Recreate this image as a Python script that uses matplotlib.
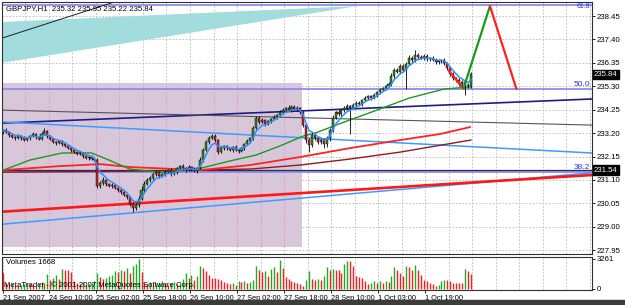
import numpy as np
import pandas as pd
import matplotlib
matplotlib.use("Agg")
import matplotlib.pyplot as plt
from matplotlib.patches import Rectangle, Polygon

plt.rcParams['font.family'] = ['Liberation Sans', 'DejaVu Sans']

# ---------------------------------------------------------------
# GBPJPY H1
# ---------------------------------------------------------------
first_open = 233.20
closes = [
    233.34, 233.25, 233.11, 233.02, 232.98, 233.07, 232.98, 232.89, 232.98, 233.07,
    233.16, 233.02, 232.93, 233.16, 233.29, 233.07, 232.93, 232.80, 232.76, 232.84,
    232.71, 232.62, 232.53, 232.44, 232.35, 232.26, 232.31, 232.17, 232.08, 232.13,
    232.04, 231.99, 230.83, 230.96, 231.10, 230.92, 230.83, 230.87, 230.74, 230.65,
    230.56, 230.42, 230.33, 230.02, 229.84, 229.97, 230.24, 230.65, 230.92, 231.10,
    231.18, 231.36, 231.45, 231.27, 231.36, 231.45, 231.54, 231.36, 231.45, 231.63,
    231.72, 231.63, 231.54, 231.68, 231.59, 231.50, 231.63, 231.99, 232.44, 232.80,
    232.98, 233.07, 232.89, 232.35, 232.53, 232.62, 232.53, 232.44, 232.58, 232.44,
    232.40, 232.53, 232.71, 232.84, 232.98, 233.43, 233.88, 233.70, 233.79, 233.61,
    233.74, 233.83, 233.92, 234.01, 234.14, 234.23, 234.32, 234.23, 234.37, 234.28,
    234.32, 234.14, 233.56, 232.89, 232.67, 233.11, 232.98, 232.80, 232.89, 232.71,
    232.98, 233.34, 233.88, 234.14, 234.06, 234.23, 234.32, 234.41, 234.32, 234.46,
    234.55, 234.50, 234.68, 234.77, 234.86, 234.77, 234.91, 235.04, 235.13, 235.22,
    235.31, 235.40, 235.76, 236.03, 235.94, 236.21, 236.03, 236.30, 236.57, 236.48,
    236.70, 236.61, 236.57, 236.66, 236.52, 236.57, 236.48, 236.39, 236.43, 236.48,
    236.34, 236.12, 235.85, 235.67, 235.58, 235.40, 235.49, 235.36, 235.32, 235.84,
]
# wick lengths in pips (0.01)
up_wick = [
    5, 8, 4, 6, 3, 9, 5, 7, 4, 6, 8, 5, 4, 10, 14, 6, 5, 7, 4, 6,
    5, 8, 6, 4, 7, 5, 9, 4, 6, 5, 7, 4, 8, 9, 12, 6, 5, 8, 4, 6,
    5, 7, 4, 6, 8, 10, 14, 20, 12, 9, 8, 6, 10, 7, 5, 9, 6, 8, 5, 7,
    6, 9, 5, 8, 6, 10, 7, 12, 9, 8, 11, 7, 9, 6, 8, 5, 7, 4, 6, 8,
    5, 7, 6, 8, 5, 10, 9, 7, 8, 6, 7, 5, 9, 6, 8, 10, 7, 12, 9, 11,
    8, 6, 5, 7, 9, 14, 8, 6, 9, 7, 8, 10, 12, 6, 9, 7, 8, 10, 6, 8,
    7, 9, 6, 8, 5, 7, 9, 6, 8, 7, 6, 9, 12, 8, 10, 7, 9, 8, 14, 10,
    23, 9, 8, 7, 10, 6, 8, 7, 9, 6, 8, 7, 6, 9, 5, 8, 7, 6, 9, 11,
]
lo_wick = [
    6, 5, 8, 4, 7, 5, 9, 6, 4, 8, 5, 7, 6, 4, 5, 8, 6, 5, 9, 4,
    7, 5, 6, 8, 4, 6, 5, 7, 6, 8, 5, 6, 10, 8, 7, 9, 5, 8, 6, 7,
    9, 6, 8, 10, 18, 7, 9, 6, 8, 5, 7, 9, 6, 8, 5, 7, 6, 9, 5, 8,
    6, 7, 9, 5, 8, 6, 7, 5, 8, 6, 9, 6, 7, 8, 5, 7, 9, 6, 8, 5,
    7, 6, 8, 5, 9, 7, 6, 8, 5, 7, 6, 8, 5, 7, 9, 6, 8, 5, 7, 6,
    8, 9, 10, 12, 30, 8, 9, 7, 10, 18, 12, 14, 8, 6, 9, 7, 10, 8, 116, 6,
    8, 6, 9, 5, 7, 8, 6, 9, 7, 6, 8, 5, 7, 9, 6, 10, 8, 85, 6, 9,
    7, 8, 6, 9, 7, 8, 6, 9, 8, 7, 10, 8, 9, 7, 8, 9, 12, 45, 10, 10,
]
volumes = [
    1740, 620, 480, 540, 420, 380, 450, 520, 610, 480, 400, 350, 520, 760, 640,
    1630, 980, 1200, 1520, 1090, 2170, 2070, 2070, 1850, 870, 650, 540, 760, 430, 540, 650, 870,
    1740, 1300, 1090, 1200, 1410, 1520, 1960, 1850, 2070, 1960, 2280, 1740, 2500, 2720, 3261, 1850,
    650, 540, 760, 430, 540, 650, 870, 540, 430, 650, 760, 540, 650, 1090,
    1740, 1200, 1520, 980, 1410, 2500, 2280, 1960, 1520, 1200, 1200, 1090, 980, 760, 650, 540, 650, 430,
    870, 760, 870, 650, 760, 980, 2500, 2070, 1850, 1960, 1410, 2170, 2390, 1850, 3150, 2280, 1300, 1090,
    870, 760, 650, 540,
    330, 980, 1960, 1090, 980, 1090, 980, 1410, 2390, 2070, 2170, 2070, 2070, 1740, 2720, 3040, 3040,
    2500, 1410, 1300, 1200, 870, 540, 650, 870, 650, 870, 650, 870, 760,
    1410, 2390, 2070, 1740, 1410, 2500, 2390, 2070, 2610, 2070, 1520, 980, 870, 650, 540, 330, 430,
    870, 980, 980, 870, 650, 650, 650, 650, 2170, 1960, 1668,
]

price_ticks = [238.45, 237.40, 236.35, 235.30, 234.25, 233.20, 232.15, 231.10, 230.05, 229.00, 227.95]
time_labels = ['21 Sep 2007', '24 Sep 10:00', '25 Sep 02:00', '25 Sep 18:00', '26 Sep 10:00',
               '27 Sep 02:00', '27 Sep 18:00', '28 Sep 10:00', '1 Oct 03:00', '1 Oct 19:00']
time_label_bars = [0, 15.5, 31.5, 47.5, 63.5, 79.5, 95.5, 111.5, 127.5, 143.5]
grid_bars = [7.5 + 8 * k for k in range(25)]

# moving averages (bar, price)
green_bars = [0, 9, 20, 30, 36, 43, 53, 66, 77, 86, 94, 102, 106, 116, 127, 138, 150, 159]
green_ma = [231.54, 231.99, 232.31, 232.31, 231.99, 231.59, 231.45, 231.59, 231.95, 232.22,
            232.62, 233.07, 233.20, 233.70, 234.23, 234.77, 235.18, 235.27]
red_bars = [0, 19, 33, 43, 67, 84, 101, 118, 135, 148.5, 158.7]
red_ma = [231.54, 231.72, 231.81, 231.68, 231.54, 231.77, 232.13, 232.53, 232.89, 233.16, 233.47]
maroon_bars = [0, 50, 84, 101, 118, 135, 159]
maroon_ma = [231.45, 231.50, 231.59, 231.77, 232.04, 232.35, 232.89]

# drawn objects
navy_line = [(0, 233.65), (200, 234.73)]
gray_line = [(0, 234.23), (200, 233.56)]
sky_line_hi = [(0, 233.70), (200, 232.31)]
red_trend = [(0, 229.68), (200, 231.32)]
sky_line_lo = [(0, 229.12), (200, 231.42)]
black_line = [(0, 237.48), (38, 239.09)]
cyan_tri = [(-1, 238.18), (120.6, 238.90), (-1, 236.34)]
box_bars = (-1, 101.6)
box_prices = (228.09, 235.45)

fib_names = ['61.8', '50.0', '38.2']
fib_prices = [238.94, 235.18, 231.45]
hline_price = 231.54
last_price = 235.84

zz_bars = [151.5, 156.5, 165.5, 174.5]
zz_prices = [236.00, 235.20, 238.90, 235.18]
zz_colors = ['#ff2020', '#1a9a1a', '#ff2020']

# ---------------------------------------------------------------
W, H = 625, 305
fig = plt.figure(figsize=(W / 100, H / 100), dpi=100)
ax = fig.add_axes([2 / W, 1 - 254 / H, 590 / W, 252 / H])
axv = fig.add_axes([2 / W, 1 - 290 / H, 590 / W, 33 / H])

n = len(closes)
x = np.arange(n)
c = np.array(closes)
o = np.concatenate([[first_open], c[:-1]])
hi = np.maximum(o, c) + np.array(up_wick) / 100
lo = np.minimum(o, c) - np.array(lo_wick) / 100

for a in (ax, axv):
    a.set_xlim(-0.44, 200.2)
    a.set_facecolor('white')
    for s in a.spines.values():
        s.set_color('#303030')
        s.set_linewidth(0.8)

ax.set_ylim(227.78, 239.08)

# background objects
ax.add_patch(Polygon(cyan_tri, closed=True, color='#a3dcdc', lw=0, zorder=1))
ax.add_patch(Rectangle((box_bars[0], box_prices[0]), box_bars[1] - box_bars[0],
                       box_prices[1] - box_prices[0], color='#d8c6d9', lw=0, zorder=1))
ax.vlines([g for g in grid_bars if g < box_bars[1]], box_prices[0], box_prices[1],
          colors='#e68ae6', lw=0.6, linestyles=(0, (2, 2)), zorder=1.2)

# grid
ax.set_yticks(price_ticks)
ax.set_yticklabels([f'{p:.2f}' for p in price_ticks])
ax.set_xticks(grid_bars)
ax.yaxis.tick_right()
ax.tick_params(axis='x', length=0, labelbottom=False)
ax.tick_params(axis='y', direction='out', length=2, width=0.6, pad=1.5, labelsize=5.6)
ax.grid(True, color='#b8b8b8', lw=0.6, ls=(0, (2, 2)), zorder=0.5)
ax.set_axisbelow(True)

# horizontal levels
for name, p in zip(fib_names, fib_prices):
    ax.axhline(p, color='#8c8cf0', lw=1.3, zorder=2)
    if p > ax.get_ylim()[1] - 0.4:
        ax.text(0.997, 0.998, name, transform=ax.transAxes, ha='right', va='top',
                fontsize=5.0, color='#3333dd', zorder=6)
    else:
        ax.text(0.997, p + 0.03, name, transform=ax.get_yaxis_transform(), ha='right', va='bottom',
                fontsize=6.0, color='#3333dd', zorder=6)
ax.axhline(hline_price, color='#2a2a4a', lw=0.9, zorder=2.1)

# trend lines
ax.axline(*navy_line, color='#1c1c86', lw=1.2, zorder=2)
ax.axline(*gray_line, color='#555555', lw=0.8, zorder=2)
ax.axline(*sky_line_hi, color='#3c9cff', lw=1.1, zorder=2)
ax.axline(*sky_line_lo, color='#3c9cff', lw=1.1, zorder=2)
ax.axline(*red_trend, color='#ff1818', lw=1.9, zorder=2.2)
ax.axline(*black_line, color='#202020', lw=0.7, zorder=2)

# moving averages
ax.plot(maroon_bars, maroon_ma, color='#8e1c1c', lw=1.0, zorder=3)
ax.plot(red_bars, red_ma, color='#ff2222', lw=1.3, zorder=3)
ax.plot(green_bars, green_ma, color='#1e981e', lw=1.0, zorder=3)

# candles
ax.vlines(x, lo, hi, colors='black', lw=0.6, zorder=4)
up = c >= o
body = np.abs(c - o)
body = np.where(body < 0.02, 0.02, body)
ax.bar(x[up], body[up], bottom=o[up], width=0.7, color='#2e8b2e', edgecolor='black', lw=0.3, zorder=4.5)
ax.bar(x[~up], body[~up], bottom=c[~up], width=0.7, color='#d02020', edgecolor='black', lw=0.3, zorder=4.5)

# fast EMA
ema = pd.Series(closes).ewm(span=5, adjust=False).mean()
ax.plot(x, ema, color='#2f8fff', lw=1.1, zorder=5)

# zigzag projection
for i in range(3):
    ax.plot(zz_bars[i:i + 2], zz_prices[i:i + 2], color=zz_colors[i], lw=1.6, zorder=5.5,
            solid_capstyle='round')

# price boxes on the axis
for p in (last_price, hline_price):
    ax.text(1.003, p, f'{p:.2f}', transform=ax.get_yaxis_transform(), ha='left', va='center',
            fontsize=5.6, color='white', zorder=10, clip_on=False,
            bbox=dict(boxstyle='square,pad=0.15', fc='black', ec='black'))

ax.text(0.006, 0.975, 'GBPJPY,H1  235.32 235.95 235.22 235.84', transform=ax.transAxes,
        ha='left', va='center', fontsize=5.6, color='black', zorder=10)

# volumes
vols = np.array(volumes)
prev = np.concatenate([[vols[0]], vols[:-1]])
vcol = np.where(vols > prev, '#22aa22', '#ee2222')
axv.vlines(x, 0, vols, colors=vcol, lw=1.0, zorder=3)
axv.set_ylim(-130, 3475)
axv.yaxis.tick_right()
axv.set_yticks([0, 3261])
axv.set_yticklabels(['0', '3261'])
axv.tick_params(axis='y', direction='out', length=2, width=0.6, pad=1.5, labelsize=5.6)
axv.set_xticks(time_label_bars)
axv.set_xticklabels(time_labels)
axv.set_xticks(grid_bars, minor=True)
axv.tick_params(axis='x', which='major', direction='out', length=2.5, width=0.6, pad=1, labelsize=5.3)
axv.tick_params(axis='x', which='minor', length=0)
for lab in axv.get_xticklabels():
    lab.set_horizontalalignment('left')
axv.grid(True, axis='x', which='both', color='#b8b8b8', lw=0.6, ls=(0, (2, 2)), zorder=0.5)
axv.set_axisbelow(True)
axv.text(0.006, 0.82, 'Volumes 1668', transform=axv.transAxes, ha='left', va='center',
         fontsize=5.6, color='black', zorder=10)
axv.text(0.003, 0.16, 'MetaTrader - \u00a9 2001-2007 MetaQuotes Software Corp.', transform=axv.transAxes,
         ha='left', va='center', fontsize=5.6, color='black', zorder=10)

# window edge at the bottom
fig.patches.append(Rectangle((0, 0), 1, 5 / H, transform=fig.transFigure, color='#3c3c3c', zorder=0))

fig.savefig('out.png', dpi=100)
